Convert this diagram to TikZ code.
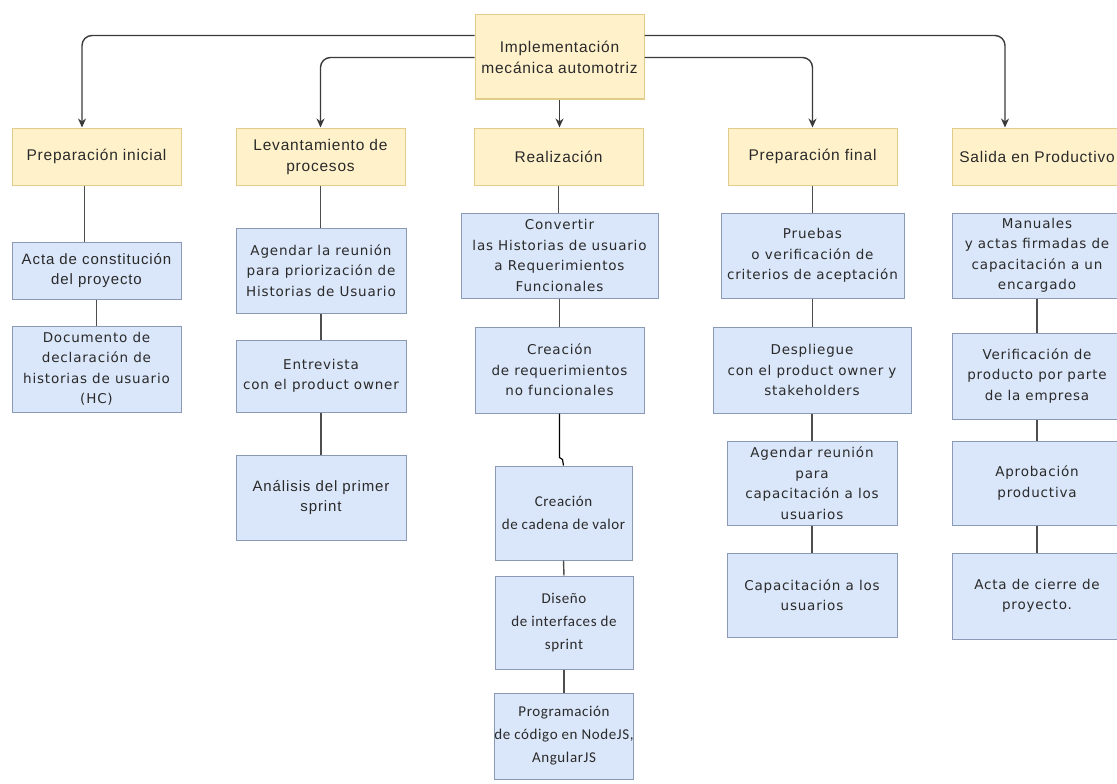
\documentclass[tikz,border=0pt]{standalone}
\usepackage{fontspec}
\setmainfont{Liberation Sans}
\newfontfamily\ysans[LetterSpace=5]{Liberation Sans}
\newfontfamily\asans[LetterSpace=6]{Liberation Sans}
\newfontfamily\dsans[LetterSpace=6]{DejaVu Sans}
\newfontfamily\csans[LetterSpace=4]{Carlito}
\usetikzlibrary{arrows.meta}
\definecolor{yfill}{HTML}{FFF1CA}
\definecolor{ydraw}{HTML}{E3CC8A}
\definecolor{bfill}{HTML}{DAE6F9}
\definecolor{bdraw}{HTML}{8A9AB4}
\definecolor{txt}{HTML}{2A2A2A}
\definecolor{conn}{HTML}{3A3A3A}
\tikzset{
  ybox/.style={draw=ydraw, fill=yfill, line width=1pt, inner sep=0pt, align=center,
    text=txt, font=\ysans\fontsize{15.5}{21}\selectfont},
  bbox/.style={draw=bdraw, fill=bfill, line width=1pt, inner sep=0pt, align=center,
    text=txt, font=\dsans\fontsize{13.5}{20.5}\selectfont},
  abox/.style={bbox, font=\asans\fontsize{15}{20.5}\selectfont},
  cbox/.style={bbox, font=\csans\fontsize{15}{23}\selectfont},
  arr/.style={draw=conn, line width=1.4pt, rounded corners=10pt,
    -{Stealth[length=9pt,width=8pt]}},
  link/.style={draw=conn!90, line width=1.4pt},
}
\begin{document}
\begin{tikzpicture}[x=1pt,y=-1pt]
\useasboundingbox (0,0) rectangle (1117,784);
\clip (0,0) rectangle (1117,784);
% top
\node[ybox, minimum width=169pt, minimum height=84pt] (top) at (559.5,57) {Implementación\\mecánica automotriz};
% level 1
\node[ybox, minimum width=169pt, minimum height=57pt] (pi) at (96.5,156.5) {Preparación inicial};
\node[ybox, minimum width=169pt, minimum height=57pt] (lev) at (320.5,156.5) {Levantamiento de\\procesos};
\node[ybox, minimum width=169pt, minimum height=57pt] (rea) at (558.5,156.5) {Realización};
\node[ybox, minimum width=169pt, minimum height=57pt] (pf) at (812.5,156.5) {Preparación final};
\node[ybox, minimum width=170pt, minimum height=57pt] (sal) at (1037,156.5) {Salida en Productivo};
% column 1
\node[abox, minimum width=169pt, minimum height=57pt] (acta) at (96.5,270.5) {Acta de constitución\\del proyecto};
\node[bbox, minimum width=169pt, minimum height=86pt] (doc) at (96.5,369) {Documento de\\declaración de\\historias de usuario\\(HC)};
% column 2
\node[bbox, minimum width=170pt, minimum height=85pt] (agl) at (321,270.5) {Agendar la reunión\\para priorización de\\Historias de Usuario};
\node[bbox, minimum width=170pt, minimum height=72pt] (ent) at (321,376) {Entrevista\\con el product owner};
\node[abox, minimum width=170pt, minimum height=85pt] (ana) at (321,497.5) {Análisis del primer\\sprint};
% column 3
\node[bbox, minimum width=197pt, minimum height=85pt] (conv) at (559.5,255.5) {Convertir\\las Historias de usuario\\a Requerimientos\\Funcionales};
\node[bbox, minimum width=169pt, minimum height=86pt] (creq) at (559.5,370) {Creación\\de requerimientos\\no funcionales};
\node[cbox, minimum width=137pt, minimum height=94pt] (cad) at (563.5,513) {Creación\\de cadena de valor};
\node[cbox, minimum width=138pt, minimum height=93pt] (dis) at (564,622.5) {Diseño\\de interfaces de\\sprint};
\node[cbox, minimum width=138pt, minimum height=86pt] (prog) at (564,736) {Programación\\de código en NodeJS,\\AngularJS};
% column 4
\node[bbox, minimum width=183pt, minimum height=85pt] (pru) at (812.5,255.5) {Pruebas\\o verificación de\\criterios de aceptación};
\node[bbox, minimum width=198pt, minimum height=86pt] (des) at (812,370) {Despliegue\\con el product owner y\\stakeholders};
\node[bbox, minimum width=170pt, minimum height=84pt] (agr) at (812,483) {Agendar reunión\\para\\capacitación a los\\usuarios};
\node[bbox, minimum width=170pt, minimum height=84pt] (cap) at (812,595) {Capacitación a los\\usuarios};
% column 5
\node[bbox, minimum width=170pt, minimum height=85pt] (man) at (1037,255.5) {Manuales\\y actas firmadas de\\capacitación a un\\encargado};
\node[bbox, minimum width=170pt, minimum height=86pt] (ver) at (1037,376) {Verificación de\\producto por parte\\de la empresa};
\node[bbox, minimum width=170pt, minimum height=84pt] (apr) at (1037,483) {Aprobación\\productiva};
\node[bbox, minimum width=170pt, minimum height=86pt] (acc) at (1037,596) {Acta de cierre de\\proyecto.};
% arrows from top
\draw[arr] ([yshift=-21pt]top.north west) -| ([xshift=-14.5pt]pi.north);
\draw[arr] ([yshift=-43pt]top.north west) -| (lev.north);
\draw[arr] ([yshift=-21pt]top.north east) -| ([xshift=-32pt]sal.north);
\draw[arr] ([yshift=-43pt]top.north east) -| (pf.north);
\draw[arr] (top.south) -- (top.south |- rea.north);
% links
\draw[link] ([xshift=-12pt]pi.south) -- ([xshift=-12pt]pi.south |- acta.north);
\draw[link] (acta.south) -- (doc.north);
\draw[link] (lev.south) -- (lev.south |- agl.north);
\draw[link] (agl.south) -- (ent.north);
\draw[link] (ent.south) -- (ana.north);
\draw[link] (rea.south) -- (rea.south |- conv.north);
\draw[link] (conv.south) -- (creq.north);
\draw[draw=black, line width=1.2pt] (creq.south) -- ++(0,44) -- ++(3,2) -- (cad.north);
\draw[link] (cad.south) -- (dis.north);
\draw[link] (dis.south) -- (prog.north);
\draw[link] (pf.south) -- (pf.south |- pru.north);
\draw[link] (pru.south) -- (pru.south |- des.north);
\draw[link] (des.south) -- (agr.north);
\draw[link] (agr.south) -- (cap.north);
\draw[link] (man.south) -- (ver.north);
\draw[link] (ver.south) -- (apr.north);
\draw[link] (apr.south) -- (acc.north);
\end{tikzpicture}
\end{document}
